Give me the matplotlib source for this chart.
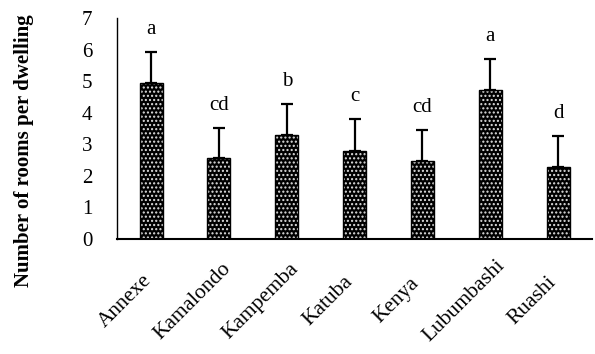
import numpy as np
import matplotlib.pyplot as plt
import matplotlib.transforms as mtransforms

plt.rcParams['font.family'] = ['Liberation Serif', 'DejaVu Serif']

communes = ['Annexe', 'Kamalondo', 'Kampemba', 'Katuba', 'Kenya', 'Lubumbashi', 'Ruashi']
rooms_mean = [4.94, 2.56, 3.29, 2.78, 2.47, 4.72, 2.28]
rooms_sd = [0.98, 0.95, 0.98, 1.02, 0.98, 0.98, 0.98]
groups = ['a', 'cd', 'b', 'c', 'cd', 'a', 'd']

fig = plt.figure(figsize=(5.95, 3.54), dpi=100)
ax = fig.add_axes([0.197, 0.325, 0.798, 0.624])

x = np.arange(len(communes))
w = 0.34

# dotted fill: black face with light dots, then a plain black outline on top
ax.bar(x, rooms_mean, width=w, color='black', edgecolor='#e0e0e0',
       hatch='....', linewidth=0, zorder=2)
ax.bar(x, rooms_mean, width=w, fill=False, edgecolor='black',
       linewidth=1.0, zorder=3)

# upper error bars only
ax.errorbar(x, rooms_mean, yerr=[np.zeros(len(x)), rooms_sd], fmt='none',
            ecolor='black', elinewidth=1.6, capsize=4.3, capthick=1.6, zorder=4)

for xi, m, s, g in zip(x, rooms_mean, rooms_sd, groups):
    ax.text(xi, m + s + 0.42, g, ha='center', va='bottom', fontsize=15)

ax.set_xlim(-0.5, 6.5)
ax.set_ylim(0, 7)
ax.set_yticks(range(0, 8))
ax.set_xticks(x)
ax.set_xticklabels(communes, rotation=45, rotation_mode='anchor',
                   ha='center', va='center', fontsize=15.5)
ax.tick_params(axis='y', length=0, pad=18, labelsize=15)
ax.tick_params(axis='x', length=0, pad=0)

# slanted names sit centred below-left of each bar
shift = mtransforms.ScaledTranslation(-0.26, -0.62, fig.dpi_scale_trans)
for lab in ax.get_xticklabels():
    lab.set_transform(lab.get_transform() + shift)

ax.spines['top'].set_visible(False)
ax.spines['right'].set_visible(False)
ax.spines['bottom'].set_linewidth(1.5)
ax.spines['left'].set_linewidth(1.0)

ax.set_ylabel('Number of rooms per dwelling', fontsize=15, fontweight='bold')
ax.yaxis.set_label_coords(-0.175, 0.40)

fig.savefig('out.png', dpi=100)
